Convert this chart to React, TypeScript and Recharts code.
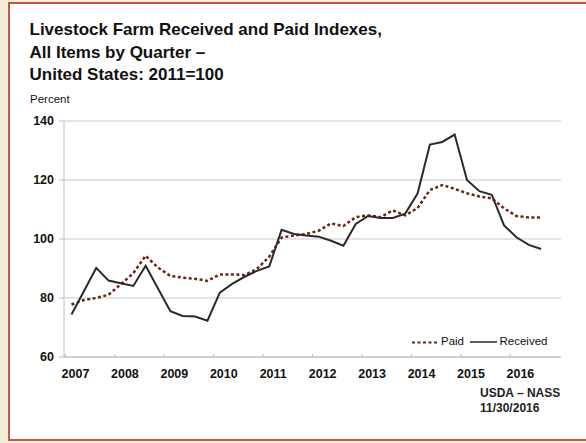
import { LineChart, Line, XAxis, YAxis, CartesianGrid } from "recharts";

// Quarterly categories, 2007 Q1 through 2016 Q4 (last quarter not yet reported)
const years = ["2007", "2008", "2009", "2010", "2011", "2012", "2013", "2014", "2015", "2016"];
const quarterNames = ["Q1", "Q2", "Q3", "Q4"];

// Tick labels shown on the x axis (one per year, at Q1)
const yearTicks = years.map((y) => `${y} Q1`);

// Index of prices paid (2011=100)
const paid = [
  77.8, 79.3, 80, 81.1,
  84.7, 88.4, 94.3, 90.3,
  87.5, 86.9, 86.5, 85.8,
  88, 88, 87.8, 89.8,
  94, 100.5, 101.2, 101.7,
  102.8, 105.3, 104.4, 107.4,
  108, 107.4, 109.7, 108,
  110.5, 116.6, 118.3, 117,
  115.5, 114.4, 113.8, 110.4,
  107.8, 107.3, 107.3, null,
];

// Index of prices received (2011=100)
const received = [
  74.4, 82.3, 90.2, 85.9,
  85, 84.1, 90.9, 83.2,
  75.5, 73.9, 73.7, 72.3,
  81.8, 84.8, 87.2, 89.2,
  90.7, 103.1, 101.7, 101.2,
  100.8, 99.4, 97.7, 105.1,
  107.8, 107.1, 107.1, 108.6,
  115.4, 132, 132.9, 135.4,
  120, 116.2, 115, 104.6,
  100.6, 98, 96.6, null,
];

const yTicks = [60, 80, 100, 120, 140];

const chartData = years
  .flatMap((y) => quarterNames.map((q) => `${y} ${q}`))
  .map((q, i) => ({ q, paid: paid[i], received: received[i] }));

const FONT = "'Liberation Sans', Arial, sans-serif";
const PAID_COLOR = "#6a2614";
const RECEIVED_COLOR = "#2a2a2a";

// Year label sits just right of the Q1 point, small tick at the year boundary
function YearTick({ x, y, payload }: any) {
  return (
    <g>
      <line x1={x - 6.2} x2={x - 6.2} y1={y - 3} y2={y} stroke="#bdbdbd" />
      <text
        x={x + 4}
        y={y + 21}
        textAnchor="middle"
        fontSize={12.5}
        fontWeight={700}
        fill="#111"
      >
        {String(payload.value).slice(0, 4)}
      </text>
    </g>
  );
}

export default function App() {
  return (
    <div
      style={{
        position: "absolute",
        left: 0,
        top: 0,
        width: 586,
        height: 443,
        overflow: "hidden",
        background: "#f3edd6",
        fontFamily: FONT,
      }}
    >
      {/* Scanned page frame */}
      <div
        style={{
          position: "absolute",
          left: 8,
          top: 2,
          width: 620,
          height: 435,
          background: "#fff",
          border: "2px solid #be5a4c",
        }}
      />

      {/* Chart */}
      <div style={{ position: "absolute", left: 0, top: 0 }}>
        <LineChart
          width={586}
          height={443}
          data={chartData}
          margin={{ top: 121, right: 25, bottom: 56, left: 10 }}
        >
          <CartesianGrid vertical={false} stroke="#c9c9c9" />
          <XAxis
            dataKey="q"
            ticks={yearTicks}
            interval={0}
            tick={<YearTick />}
            tickLine={false}
            tickSize={0}
            tickMargin={0}
            height={30}
            padding={{ left: 7.5, right: 7.5 }}
            axisLine={{ stroke: "#bdbdbd" }}
          />
          <YAxis
            domain={[60, 140]}
            ticks={yTicks}
            width={54}
            tickSize={5}
            tickMargin={5}
            axisLine={{ stroke: "#bdbdbd" }}
            tickLine={{ stroke: "#bdbdbd" }}
            tick={{ fontSize: 12.5, fontWeight: 700, fill: "#111" }}
          />
          <Line
            dataKey="paid"
            stroke={PAID_COLOR}
            strokeWidth={2.5}
            strokeDasharray="3 2.5"
            dot={false}
            isAnimationActive={false}
          />
          <Line
            dataKey="received"
            stroke={RECEIVED_COLOR}
            strokeWidth={2}
            dot={false}
            isAnimationActive={false}
          />
        </LineChart>
      </div>

      {/* Titles, legend and source note */}
      <svg
        width={586}
        height={443}
        style={{ position: "absolute", left: 0, top: 0, pointerEvents: "none" }}
      >
        <g fontSize={17} fontWeight={700} fill="#111">
          <text x={29.5} y={35}>Livestock Farm Received and Paid Indexes,</text>
          <text x={29.5} y={57.5}>All Items by Quarter –</text>
          <text x={29.5} y={80}>United States: 2011=100</text>
        </g>
        <text x={30} y={102.5} fontSize={11.5} fill="#111">
          Percent
        </text>

        {/* Legend */}
        <line
          x1={412}
          x2={438}
          y1={342.5}
          y2={342.5}
          stroke={PAID_COLOR}
          strokeWidth={2}
          strokeDasharray="3 2.5"
        />
        <text x={441} y={344.6} fontSize={11.5} fill="#111">
          Paid
        </text>
        <line
          x1={470}
          x2={497}
          y1={342}
          y2={342}
          stroke={RECEIVED_COLOR}
          strokeWidth={1.5}
        />
        <text x={499.5} y={344.6} fontSize={11.5} fill="#111">
          Received
        </text>

        <g fontSize={12} fontWeight={700} fill="#222">
          <text x={480} y={396.7}>USDA – NASS</text>
          <text x={480} y={411.7}>11/30/2016</text>
        </g>
      </svg>
    </div>
  );
}
